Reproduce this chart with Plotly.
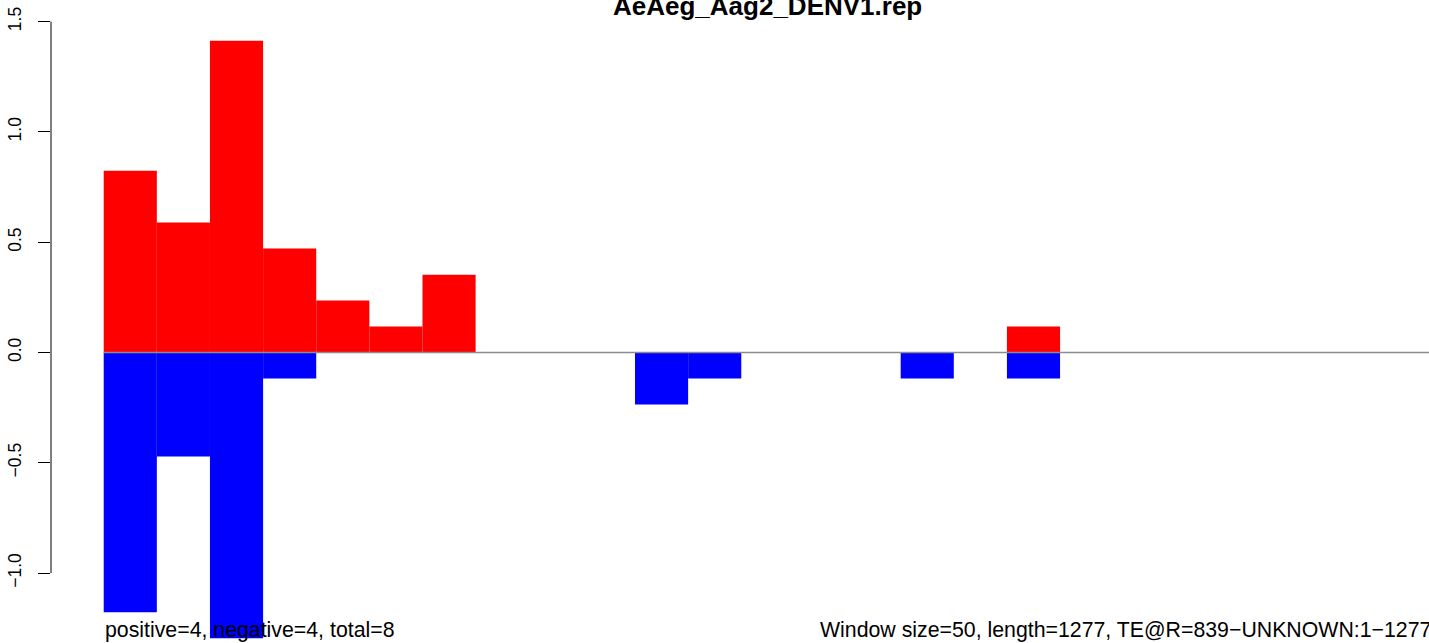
import plotly.graph_objects as go

# ---- data ----
window_size = 50
seq_length = 1277
window_start = [i * window_size for i in range(26)]
positive_vals = [0.824, 0.589, 1.413, 0.471, 0.236, 0.118, 0.353, 0, 0, 0,
                 0, 0, 0, 0, 0, 0, 0, 0.118, 0, 0,
                 0, 0, 0, 0, 0, 0]
negative_vals = [-1.178, -0.471, -1.296, -0.118, 0, 0, 0, 0, 0, 0,
                 -0.236, -0.118, 0, 0, 0, -0.118, 0, -0.118, 0, 0,
                 0, 0, 0, 0, 0, 0]
y_ticks = [-1.0, -0.5, 0.0, 0.5, 1.0, 1.5]
y_tick_text = ["\u22121.0", "\u22120.5", "0.0", "0.5", "1.0", "1.5"]
title_text = "AeAeg_Aag2_DENV1.rep"
left_note = "positive=4, negative=4, total=8"
right_note = "Window size=50, length=1277, TE@R=839\u2212UNKNOWN:1\u22121277"

centers = [s + window_size / 2 for s in window_start]

FONT = "Liberation Sans, Arial, Helvetica, sans-serif"

fig = go.Figure()
fig.add_trace(go.Bar(x=centers, y=positive_vals, width=window_size,
                     marker=dict(color="#FF0000", line=dict(width=0)),
                     showlegend=False, hoverinfo="skip"))
fig.add_trace(go.Bar(x=centers, y=negative_vals, width=window_size,
                     marker=dict(color="#0000FF", line=dict(width=0)),
                     showlegend=False, hoverinfo="skip"))

# zero line from x=0 across the plot
fig.add_shape(type="line", xref="x", yref="y", x0=0, x1=1400, y0=0, y1=0,
              line=dict(color="#8c8c8c", width=1.5), layer="above")
# y axis line spanning the ticks
fig.add_shape(type="line", xref="paper", yref="y", x0=0, x1=0,
              y0=min(y_ticks), y1=max(y_ticks),
              line=dict(color="black", width=1))

fig.update_layout(
    width=1429, height=643,
    margin=dict(l=50.5, r=0, t=0, b=0, autoexpand=False),
    paper_bgcolor="white", plot_bgcolor="white",
    barmode="overlay",
    font=dict(family=FONT, color="black"),
    xaxis=dict(range=[-49.6, 1247.2], visible=False, showgrid=False,
               zeroline=False),
    yaxis=dict(range=[-1.317, 1.598], tickmode="array", tickvals=y_ticks,
               ticktext=y_tick_text, tickangle=-90, ticks="outside",
               ticklen=12, tickwidth=1, tickcolor="black",
               tickfont=dict(size=17.5, family=FONT, color="black"),
               showgrid=False, zeroline=False, showline=False,
               ticklabelstandoff=10, automargin=False),
    annotations=[
        dict(text="<b>" + title_text + "</b>", xref="paper", yref="paper",
             x=0.5198, y=1 - 6 / 643, xanchor="center", yanchor="middle",
             showarrow=False, font=dict(size=26, family=FONT)),
        dict(text=left_note, xref="paper", yref="paper",
             x=(102.5 - 50.5) / 1378.5, y=(643 - 630) / 643,
             xanchor="left", yanchor="middle", showarrow=False,
             font=dict(size=21.3, family=FONT)),
        dict(text=right_note, xref="paper", yref="paper",
             x=(1433 - 50.5) / 1378.5, y=(643 - 630) / 643,
             xanchor="right", yanchor="middle", showarrow=False,
             font=dict(size=21.3, family=FONT)),
    ],
)

fig.write_html(
    "out.html",
    config={"displayModeBar": False},
    post_script="document.body.style.margin='0';document.body.style.padding='0';document.body.style.overflow='hidden';",
)
